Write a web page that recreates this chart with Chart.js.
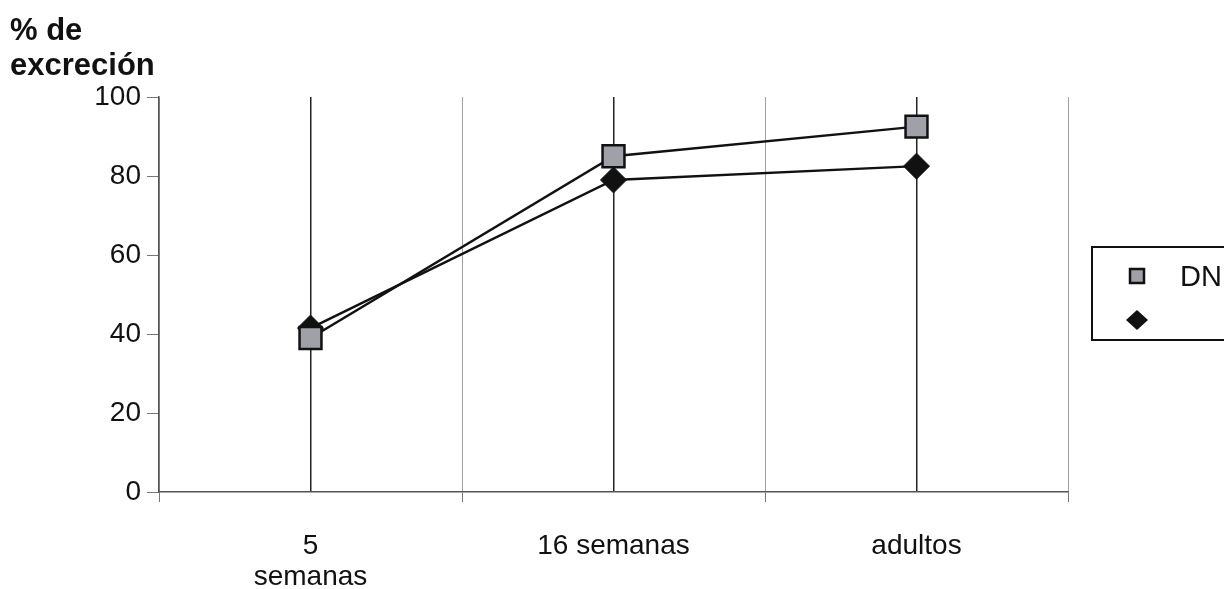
<!DOCTYPE html>
<html>
<head>
<meta charset="utf-8">
<script src="https://cdn.jsdelivr.net/npm/chart.js@4"></script>
<style>
  html, body { margin: 0; padding: 0; background: #fff; overflow: hidden; }
  #wrap { position: relative; width: 1224px; height: 589px; }
</style>
</head>
<body>
<div id="wrap"><canvas id="c" width="1224" height="589"></canvas></div>
<script>
const categories = ['5 semanas', '16 semanas', 'adultos'];
const categoryLines = [['5', 'semanas'], ['16 semanas'], ['adultos']];
const seriesNames = ['DN', ''];
const dnValues = [39, 85, 92.5];
const secondValues = [41.5, 79, 82.5];
const yTicks = [0, 20, 40, 60, 80, 100];
const yTitleLines = ['% de', 'excreción'];

const FONT = '"Liberation Sans", Arial, sans-serif';

function toPoints(vals) {
  return vals.map((v, i) => ({ x: i * 2 + 1, y: v }));
}

const titlePlugin = {
  id: 'ytitle',
  afterDraw(chart) {
    const ctx = chart.ctx;
    ctx.save();
    ctx.fillStyle = '#111';
    ctx.font = 'bold 31px ' + FONT;
    ctx.textBaseline = 'alphabetic';
    ctx.textAlign = 'left';
    ctx.fillText(yTitleLines[0], 10, 40);
    ctx.fillText(yTitleLines[1], 10, 75);
    ctx.restore();
  }
};

const legendPlugin = {
  id: 'customLegend',
  afterDraw(chart) {
    const ctx = chart.ctx;
    ctx.save();
    ctx.strokeStyle = '#111';
    ctx.lineWidth = 2;
    ctx.strokeRect(1092, 247, 200, 93);
    const rows = [276, 320];
    chart.data.datasets.forEach((ds, i) => {
      const y = rows[i];
      const x = 1137;
      ctx.fillStyle = ds.pointBackgroundColor;
      ctx.strokeStyle = '#111';
      ctx.lineWidth = 2.5;
      if (ds.pointStyle === 'rect') {
        ctx.fillRect(x - 7, y - 7, 14, 14);
        ctx.strokeRect(x - 7, y - 7, 14, 14);
      } else {
        ctx.beginPath();
        ctx.moveTo(x, y - 10); ctx.lineTo(x + 11, y); ctx.lineTo(x, y + 10); ctx.lineTo(x - 11, y);
        ctx.closePath(); ctx.fill();
      }
      ctx.fillStyle = '#111';
      ctx.font = '29px ' + FONT;
      ctx.textBaseline = 'alphabetic';
      ctx.textAlign = 'left';
      ctx.fillText(ds.label, 1180, y + 10);
    });
    ctx.restore();
  }
};

new Chart(document.getElementById('c'), {
  type: 'line',
  data: {
    datasets: [
      {
        label: seriesNames[0],
        data: toPoints(dnValues),
        borderColor: '#111',
        borderWidth: 2.5,
        pointStyle: 'rect',
        pointRadius: 15.5,
        pointHoverRadius: 15.5,
        pointBackgroundColor: '#a0a0a8',
        pointBorderColor: '#111',
        pointBorderWidth: 2.5,
        tension: 0
      },
      {
        label: seriesNames[1],
        data: toPoints(secondValues),
        borderColor: '#111',
        borderWidth: 2.5,
        pointStyle: 'rectRot',
        pointRadius: 13,
        pointHoverRadius: 13,
        pointBackgroundColor: '#111',
        pointBorderColor: '#111',
        pointBorderWidth: 1,
        tension: 0
      }
    ]
  },
  options: {
    responsive: false,
    animation: false,
    devicePixelRatio: 1,
    layout: { padding: { top: 97, right: 156, left: 0, bottom: 0 } },
    plugins: { legend: { display: false }, tooltip: { enabled: false }, title: { display: false } },
    scales: {
      x: {
        type: 'linear',
        min: 0,
        max: categories.length * 2,
        afterBuildTicks(axis) {
          const t = [];
          for (let i = 0; i <= categories.length * 2; i++) t.push({ value: i });
          axis.ticks = t;
        },
        afterFit(axis) { axis.height = 589 - 492; },
        border: { display: true, color: '#555', width: 1.5 },
        grid: {
          drawOnChartArea: true,
          color(ctx) { return (ctx.tick && ctx.tick.value % 2 === 1) ? '#222' : '#a0a0a0'; },
          lineWidth(ctx) { return (ctx.tick && ctx.tick.value % 2 === 1) ? 1.5 : 1; },
          tickLength: 10,
          drawTicks: true,
          tickColor(ctx) { return (ctx.tick && ctx.tick.value % 2 === 1) ? 'rgba(0,0,0,0)' : '#777'; }
        },
        ticks: {
          autoSkip: false,
          maxRotation: 0,
          padding: 29,
          color: '#111',
          font: { family: FONT, size: 28, lineHeight: 1.1 },
          callback(v) {
            if (v % 2 === 1) return categoryLines[(v - 1) / 2];
            return '';
          }
        }
      },
      y: {
        min: 0,
        max: 100,
        afterBuildTicks(axis) { axis.ticks = yTicks.map(v => ({ value: v })); },
        afterFit(axis) { axis.width = 159; },
        border: { display: true, color: '#555', width: 1.5 },
        grid: { drawOnChartArea: false, tickLength: 12, tickColor: '#777' },
        ticks: {
          padding: 6,
          color: '#111',
          font: { family: FONT, size: 28 }
        }
      }
    }
  },
  plugins: [titlePlugin, legendPlugin]
});
</script>
</body>
</html>
